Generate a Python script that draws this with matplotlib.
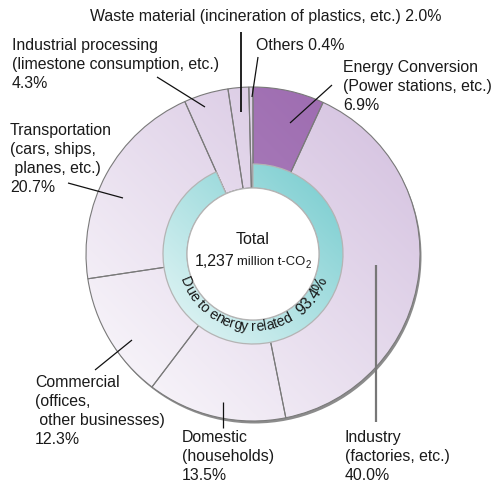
import numpy as np
import matplotlib
matplotlib.use("Agg")
import matplotlib.pyplot as plt
from matplotlib.patches import Circle
from matplotlib.colors import to_rgb
from matplotlib.font_manager import FontProperties
from matplotlib.textpath import TextPath

# CO2 emissions by sector (%), clockwise from the top
sectors = ["Energy Conversion", "Industry", "Domestic", "Commercial",
           "Transportation", "Industrial processing", "Waste material", "Others"]
shares = [6.9, 40.0, 13.5, 12.3, 20.7, 4.3, 2.0, 0.4]
energy_related = 93.4
total_text = "1,237"

W, H, DPI = 493, 483, 100
cx, cy = 253, H - 254          # centre of the doughnut (y measured upwards)
R_OUT, R_MID, R_HOLE = 167, 90, 66

FAM = ["Liberation Sans", "DejaVu Sans"]
plt.rcParams["font.family"] = FAM
TXT = "#1a1a1a"
FS = 11.4

fig = plt.figure(figsize=(W / DPI, H / DPI), dpi=DPI)
ax = fig.add_axes([0, 0, 1, 1])


def Y(v):
    return H - v


def gradient_fill(patch, dark, light, radius, zorder):
    # diagonal gradient, dark at upper right, light at lower left
    n = 200
    xx, yy = np.meshgrid(np.linspace(0, 1, n), np.linspace(0, 1, n))
    t = np.clip((xx + yy) / 2, 0, 1)[..., None]
    c0, c1 = np.array(to_rgb(light)), np.array(to_rgb(dark))
    img = c0 + (c1 - c0) * t
    im = ax.imshow(img, extent=(cx - radius, cx + radius, cy - radius, cy + radius),
                   origin="lower", zorder=zorder, interpolation="bilinear")
    im.set_clip_path(patch)


# drop shadow under the outer ring
ax.add_patch(Circle((cx + 1.5, cy - 2.5), R_OUT, color="#8c8c8c", zorder=0.5, lw=0))

# outer ring: the sectors
wedges, _ = ax.pie(shares, radius=R_OUT, center=(cx, cy), startangle=90,
                   counterclock=False,
                   wedgeprops=dict(width=R_OUT - R_HOLE, edgecolor="#7a7a7a",
                                   linewidth=0.8))
for i, w in enumerate(wedges):
    w.set_facecolor("none")
    w.set_zorder(2)
    if i == 0:
        gradient_fill(w, "#9a66ad", "#b793c7", R_OUT, 1)
    else:
        gradient_fill(w, "#d2bede", "#fcfbfd", R_OUT, 1)

# inner ring: share due to energy
inner, _ = ax.pie([energy_related, sum(shares) - energy_related], radius=R_MID,
                  center=(cx, cy), startangle=90, counterclock=False,
                  wedgeprops=dict(width=R_MID - R_HOLE, edgecolor="#b4b4b4",
                                  linewidth=0.9))
inner[0].set_facecolor("none")
inner[0].set_zorder(4)
gradient_fill(inner[0], "#74cbce", "#e8f7f7", R_MID, 3)
inner[1].set_visible(False)

ax.add_patch(Circle((cx, cy), R_HOLE, facecolor="white", edgecolor="#b4b4b4",
                    lw=0.9, zorder=5))

# centre text
ax.text(cx, Y(240), "Total", ha="center", va="center", fontsize=11.5, color=TXT, zorder=6)
ax.text(195, Y(262), total_text, ha="left", va="center", fontsize=11.5, color=TXT, zorder=6)
unit = ax.text(237, Y(262), "million t-CO", ha="left", va="center", fontsize=9.4,
               color=TXT, zorder=6)
ax.annotate("2", xy=(1, 0), xycoords=unit, xytext=(0.3, -1.2),
            textcoords="offset points", ha="left", va="bottom", fontsize=7,
            color=TXT, zorder=6)


# text bent along the inner ring
def advance(s, fp):
    w = TextPath((0, 0), "l" + s + "l", prop=fp).get_extents().width
    w0 = TextPath((0, 0), "ll", prop=fp).get_extents().width
    return (w - w0) * DPI / 72


def arc_text(s, fp, r, start_deg):
    ang = np.radians(start_deg)
    for ch in s:
        w = advance(ch, fp)
        mid = ang + (w / 2) / r
        if ch != " ":
            ax.text(cx + r * np.cos(mid), cy + r * np.sin(mid), ch,
                    rotation=np.degrees(mid) + 90, rotation_mode="anchor",
                    ha="center", va="baseline", fontproperties=fp, color=TXT,
                    zorder=6)
        ang += w / r
    return np.degrees(ang)


fp_small = FontProperties(family=FAM, size=10.3)
fp_big = FontProperties(family=FAM, size=11.5)
arc_text("Due to energy related", fp_small, 77, 199)
pct = f"{energy_related}%"
arc_text(pct, fp_big, 78, 341 - np.degrees(advance(pct, fp_big) / 78))

# sector labels and leader lines
labels = [
    (343, 60, "Energy Conversion\n(Power stations, etc.)\n" + f"{shares[0]}%"),
    (345, 430, "Industry\n(factories, etc.)\n" + f"{shares[1]}%"),
    (182, 430, "Domestic\n(households)\n" + f"{shares[2]}%"),
    (35, 375, "Commercial\n(offices,\n other businesses)\n" + f"{shares[3]}%"),
    (10, 123, "Transportation\n(cars, ships,\n planes, etc.)\n" + f"{shares[4]}%"),
    (12, 38, "Industrial processing\n(limestone consumption, etc.)\n" + f"{shares[5]}%"),
]
for x, y, s in labels:
    ax.text(x, Y(y), s, ha="left", va="top", fontsize=FS, color=TXT,
            linespacing=1.32, zorder=6)
ax.text(441, Y(16), f"Waste material (incineration of plastics, etc.) {shares[6]}%",
        ha="right", va="center", fontsize=FS, color=TXT, zorder=6)
ax.text(256, Y(45), f"Others {shares[7]}%", ha="left", va="center",
        fontsize=FS, color=TXT, zorder=6)

leaders = [
    ((332, 85), (290, 123), "#111111", 0.9),
    ((376, 265), (376, 422), "#777777", 1.6),
    ((223, 402), (223, 428), "#111111", 0.9),
    ((95, 370), (132, 340), "#111111", 0.9),
    ((68, 183), (123, 198), "#111111", 0.9),
    ((157, 77), (205, 107), "#111111", 0.9),
    ((241, 32), (241, 112), "#111111", 1.3),
    ((258, 57), (252, 97), "#111111", 0.9),
]
for (x0, y0), (x1, y1), c, lw in leaders:
    ax.plot([x0, x1], [Y(y0), Y(y1)], color=c, lw=lw, zorder=7,
            solid_capstyle="butt")

ax.set_xlim(0, W)
ax.set_ylim(0, H)
ax.set_aspect("auto")
ax.axis("off")
fig.savefig("out.png", dpi=DPI, facecolor="white")
